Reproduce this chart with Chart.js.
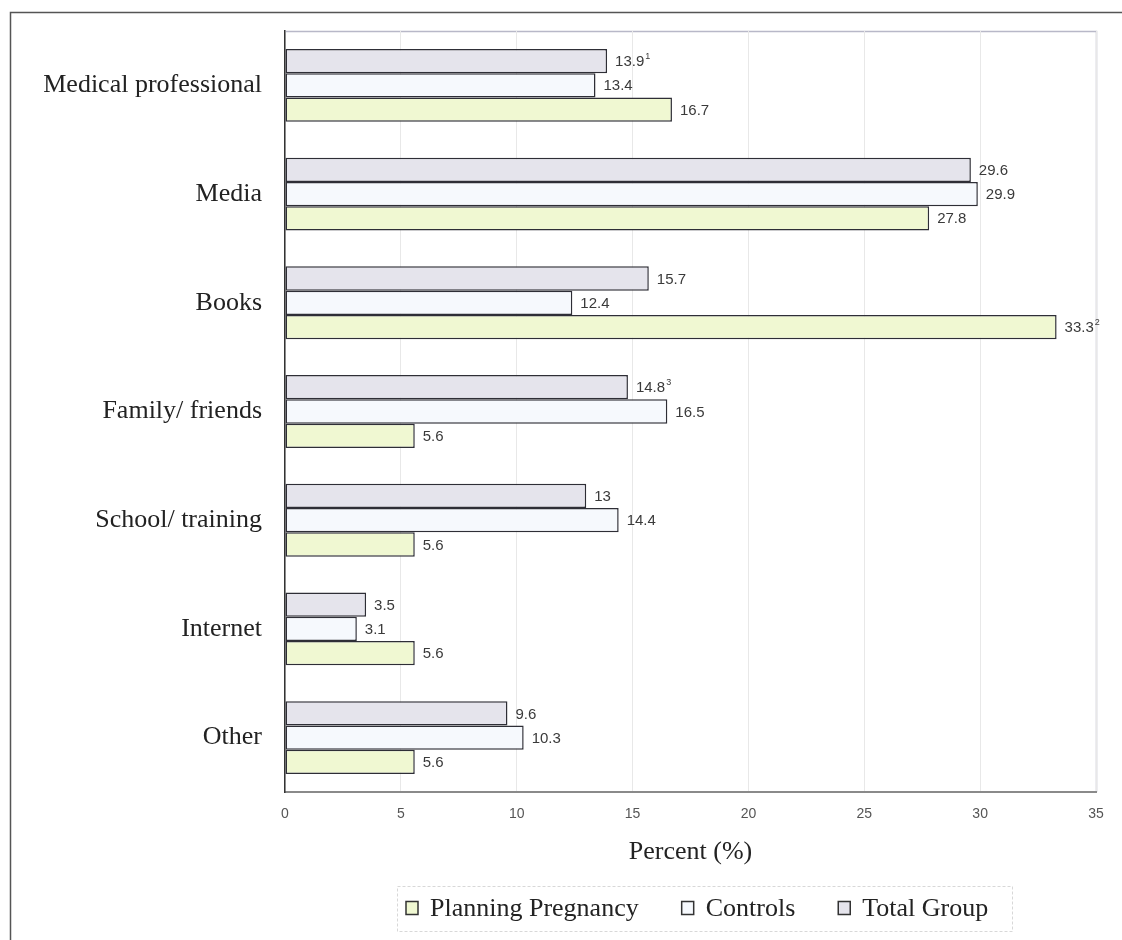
<!DOCTYPE html>
<html>
<head>
<meta charset="utf-8">
<title>Sources of information</title>
<script src="https://cdn.jsdelivr.net/npm/chart.js@4.4.1/dist/chart.umd.min.js"></script>
<style>
  html, body { margin: 0; padding: 0; background: #fff; }
  #wrap { width: 1122px; height: 940px; }
</style>
</head>
<body>
<div id="wrap"><canvas id="chart" width="1122" height="940"></canvas></div>
<script>
const categories = ["Medical professional", "Media", "Books", "Family/ friends", "School/ training", "Internet", "Other"];
const planningPregnancy = [16.7, 27.8, 33.3, 5.6, 5.6, 5.6, 5.6];
const controls = [13.4, 29.9, 12.4, 16.5, 14.4, 3.1, 10.3];
const totalGroup = [13.9, 29.6, 15.7, 14.8, 13, 3.5, 9.6];
const xTicks = [0, 5, 10, 15, 20, 25, 30, 35];

// footnote marks printed after some values
const planningNotes = ["", "", "2", "", "", "", ""];
const controlsNotes = ["", "", "", "", "", "", ""];
const totalNotes = ["1", "", "", "3", "", "", ""];

const SERIF = "'Liberation Serif', 'Times New Roman', serif";
const SANS = "'Liberation Sans', Arial, sans-serif";

// outer frame and plot border
const framePlugin = {
  id: "frame",
  beforeDraw(chart) {
    const ctx = chart.ctx;
    const a = chart.chartArea;
    ctx.save();
    ctx.strokeStyle = "#555";
    ctx.lineWidth = 1.5;
    ctx.beginPath();
    ctx.moveTo(10.5, 945);
    ctx.lineTo(10.5, 12.5);
    ctx.lineTo(1130, 12.5);
    ctx.stroke();
    ctx.strokeStyle = "#b8b8c8";
    ctx.lineWidth = 1.5;
    ctx.beginPath();
    ctx.moveTo(a.left, a.top + 0.5);
    ctx.lineTo(a.right + 0.5, a.top + 0.5);
    ctx.lineTo(a.right + 0.5, a.bottom);
    ctx.stroke();
    ctx.restore();
  }
};

// value labels at bar ends, with superscript notes
const valueLabels = {
  id: "valueLabels",
  afterDatasetsDraw(chart) {
    const ctx = chart.ctx;
    ctx.save();
    ctx.fillStyle = "#3a3a3a";
    ctx.textBaseline = "middle";
    chart.data.datasets.forEach((ds, di) => {
      const meta = chart.getDatasetMeta(di);
      meta.data.forEach((bar, i) => {
        const txt = String(ds.data[i]);
        const x = bar.x + 8;
        const y = bar.y + 1;
        ctx.font = "15px " + SANS;
        ctx.fillText(txt, x, y);
        const note = ds.notes[i];
        if (note) {
          const w = ctx.measureText(txt).width;
          ctx.font = "9px " + SANS;
          ctx.fillText(note, x + w + 1, y - 6);
        }
      });
    });
    ctx.restore();
  }
};

// boxed legend below the axis title
const boxLegend = {
  id: "boxLegend",
  afterDraw(chart) {
    const ctx = chart.ctx;
    const order = [2, 1, 0];
    const frame = { left: 397, top: 886, right: 1012, bottom: 931 };
    ctx.save();
    ctx.strokeStyle = "#d8d8d8";
    ctx.lineWidth = 1;
    ctx.setLineDash([3, 2]);
    ctx.strokeRect(frame.left + 0.5, frame.top + 0.5, frame.right - frame.left, frame.bottom - frame.top);
    ctx.setLineDash([]);
    ctx.font = "26px " + SERIF;
    ctx.textBaseline = "middle";
    let x = frame.left + 9;
    const cy = (frame.top + frame.bottom) / 2;
    order.forEach((di) => {
      const ds = chart.data.datasets[di];
      ctx.fillStyle = ds.backgroundColor;
      ctx.strokeStyle = "#333";
      ctx.lineWidth = 1.5;
      ctx.fillRect(x, cy - 7, 12, 13);
      ctx.strokeRect(x, cy - 7, 12, 13);
      x += 24;
      ctx.fillStyle = "#222";
      ctx.fillText(ds.label, x, cy + 1);
      x += ctx.measureText(ds.label).width + 43;
    });
    ctx.restore();
  }
};

new Chart(document.getElementById("chart"), {
  type: "bar",
  data: {
    labels: categories,
    datasets: [
      { label: "Total Group", data: totalGroup, notes: totalNotes, backgroundColor: "#e5e4ec" },
      { label: "Controls", data: controls, notes: controlsNotes, backgroundColor: "#f6f9fd" },
      { label: "Planning Pregnancy", data: planningPregnancy, notes: planningNotes, backgroundColor: "#f0f8d2" }
    ].map(d => Object.assign(d, {
      borderColor: "#2e2e36",
      borderWidth: 1.5,
      borderSkipped: false,
      barPercentage: 1,
      categoryPercentage: 0.67
    }))
  },
  options: {
    indexAxis: "y",
    responsive: false,
    animation: false,
    layout: { padding: { left: 0, top: 31, right: 26, bottom: 72 } },
    plugins: {
      legend: { display: false },
      tooltip: { enabled: false }
    },
    scales: {
      x: {
        min: 0,
        max: 35,
        afterBuildTicks(scale) { scale.ticks = xTicks.map(v => ({ value: v })); },
        afterFit(scale) { scale.height = 76; },
        grid: { color: "#e8e8e8", lineWidth: 1, drawTicks: false },
        border: { color: "#8a8a8a", width: 2 },
        ticks: { color: "#555", font: { family: SANS, size: 14 }, padding: 14, maxRotation: 0 },
        title: { display: true, text: "Percent (%)", color: "#222", font: { family: SERIF, size: 26 }, padding: 0 }
      },
      y: {
        afterFit(scale) { scale.width = 285; },
        grid: { display: false },
        border: { color: "#333", width: 1.5 },
        ticks: { color: "#222", font: { family: SERIF, size: 26 }, padding: 15 }
      }
    }
  },
  plugins: [framePlugin, valueLabels, boxLegend]
});
</script>
</body>
</html>
